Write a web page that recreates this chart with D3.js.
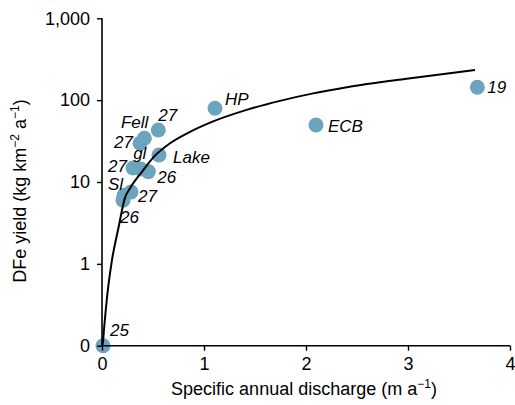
<!DOCTYPE html>
<html>
<head>
<meta charset="utf-8">
<script src="https://cdn.jsdelivr.net/npm/d3@7"></script>
<style>
  body { margin: 0; background: #fff; }
  text { font-family: "Liberation Sans", Arial, Helvetica, sans-serif; }
</style>
</head>
<body>
<svg id="chart" width="515" height="405"></svg>
<script>
// site values
const discharge = [0.01, 0.216, 0.206, 0.284, 0.304, 0.38, 0.454, 0.559, 0.373, 0.415, 0.552, 1.108, 2.098, 3.68]
const dfeYield  = [0, 6.9, 6.0, 7.55, 14.8, 14.4, 13.4, 21.4, 29.7, 34.2, 43.2, 79.5, 49.7, 143.6]
const siteLabels = ['25', 'Sl', '26', '27', '27', 'gl', '26', 'Lake', '27', 'Fell', '27', 'HP', 'ECB', '19']

// fitted curve, sampled from the figure
const curveQ = [0.005, 0.02, 0.052, 0.095, 0.16, 0.225, 0.275, 0.405, 0.503, 0.667, 0.863, 1.09, 1.418, 1.745, 2.07, 2.4, 2.987, 3.657]
const curveY = [0.1, 0.16, 0.42, 1.06, 2.7, 6.4, 8.4, 14.0, 20, 29.7, 41, 55, 76, 98, 121, 144, 183, 233]

const xTicks = [0, 1, 2, 3, 4]
const yTicks = [0.1, 1, 10, 100, 1000]
const yTickLabels = ['0', '1', '10', '100', '1,000']

// label placement (dx, dy, anchor) for each site
const labelPos = [
  [7, -10, 'start'], [-1, -5, 'end'], [-3, 23, 'start'], [7, 10, 'start'],
  [-6, 4, 'end'], [-1, -10, 'middle'], [9, 11, 'start'], [14, 8, 'start'],
  [-7, 5, 'end'], [4, -10, 'end'], [0, -9, 'start'], [10, -3, 'start'],
  [12, 7, 'start'], [10, 6, 'start']
]

const svg = d3.select('#chart')
const margin = {top: 18.3, right: 5, bottom: 59.3, left: 102}
const W = 515, H = 405
const ptColor = '#6ca3bd'
const fs = 17, axisFs = 18

const x = d3.scaleLinear().domain([0, 4]).range([margin.left, W - margin.right])
const y = d3.scaleLog().domain([0.1, 1000]).range([H - margin.bottom, margin.top])
const yv = v => y(Math.max(v, 0.1)) // zero plotted on the bottom line

const sites = discharge.map((q, i) => ({q: q, v: dfeYield[i], label: siteLabels[i], pos: labelPos[i]}))

// points
svg.append('g').selectAll('circle')
  .data(sites)
  .enter()
  .append('circle')
  .attr('cx', d => x(d.q))
  .attr('cy', d => yv(d.v))
  .attr('r', 7.5)
  .attr('fill', ptColor)

// labels
svg.append('g').selectAll('text')
  .data(sites)
  .enter()
  .append('text')
  .attr('x', d => x(d.q) + d.pos[0])
  .attr('y', d => yv(d.v) + d.pos[1])
  .attr('text-anchor', d => d.pos[2])
  .attr('font-size', fs)
  .attr('font-style', 'italic')
  .text(d => d.label)

// fitted curve
const curvePts = curveQ.map((q, i) => [q, curveY[i]])
svg.append('path')
  .datum([[0, 0.1]].concat(curvePts))
  .attr('fill', 'none')
  .attr('stroke', '#000')
  .attr('stroke-width', 2)
  .attr('d', d3.line()
    .x(d => x(d[0]))
    .y(d => y(d[1]))
    .curve(d3.curveMonotoneX))

// axes
const xAxis = svg.append('g')
  .attr('transform', `translate(0,${H - margin.bottom})`)
  .call(d3.axisBottom(x).tickValues(xTicks).tickFormat(d3.format('d')).tickSize(5).tickPadding(7))
const yAxis = svg.append('g')
  .attr('transform', `translate(${margin.left},0)`)
  .call(d3.axisLeft(y).tickValues(yTicks).tickFormat((d, i) => yTickLabels[i]).tickSize(5).tickPadding(7))

;[xAxis, yAxis].forEach(g => {
  g.select('.domain').attr('stroke-width', 1.6)
  g.selectAll('.tick line').attr('stroke-width', 1.4)
  g.selectAll('.tick text').attr('font-size', axisFs).attr('font-family', '"Liberation Sans", Arial, sans-serif').attr('fill', '#000')
})
xAxis.select('.domain').attr('d', `M${x(0)},0H${x(4)}`)
yAxis.select('.domain').attr('d', `M0,${y(0.1)}V${y(1000)}`)

// axis titles
const xt = svg.append('text')
  .attr('x', (x(0) + x(4)) / 2 - 2)
  .attr('y', 395)
  .attr('text-anchor', 'middle')
  .attr('font-size', axisFs)
xt.append('tspan').text('Specific annual discharge (m a')
xt.append('tspan').attr('font-size', 12).attr('dy', -7).text('\u22121')
xt.append('tspan').attr('dy', 7).text(')')

const yt = svg.append('text')
  .attr('transform', `translate(26,191) rotate(-90)`)
  .attr('text-anchor', 'middle')
  .attr('font-size', axisFs)
yt.append('tspan').text('DFe yield (kg km')
yt.append('tspan').attr('font-size', 12).attr('dy', -7).text('\u22122')
yt.append('tspan').attr('dy', 7).text(' a')
yt.append('tspan').attr('font-size', 12).attr('dy', -7).text('\u22121')
yt.append('tspan').attr('dy', 7).text(')')
</script>
</body>
</html>
